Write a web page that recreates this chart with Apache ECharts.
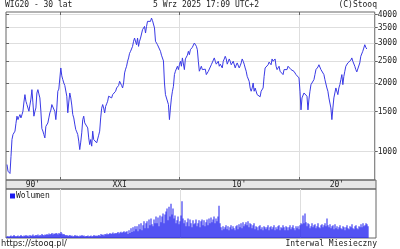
<!DOCTYPE html>
<html><head><meta charset="utf-8">
<script src="https://cdn.jsdelivr.net/npm/echarts@6/dist/echarts.min.js"></script>
<style>html,body{margin:0;padding:0;background:#fff}#c{width:400px;height:249px}</style>
</head><body><div id="c"></div>
<script>
// ---- data (monthly, starting Aug 1995) ----
const startYear = 1995, startMonth = 8;
const closeValues = [
877,820,807,801,950,1129,1187,1210,1229,1330,
1430,1381,1420,1453,1405,1450,1503,1650,1778,1663,
1608,1600,1503,1600,1700,1870,1636,1430,1500,1554,
1808,1870,1790,1720,1503,1260,1230,1187,1148,1290,
1314,1335,1405,1478,1520,1608,1636,1636,1500,1381,
1554,1840,1880,1902,2328,2150,2069,2000,1950,1935,
1750,1480,1650,1808,1720,1600,1453,1405,1320,1249,
1220,1187,1111,1020,1100,1208,1380,1430,1336,1350,
1360,1270,1148,1073,1129,1056,1229,1129,1120,1111,
1092,1111,1180,1229,1405,1550,1608,1554,1478,1580,
1620,1663,1750,1778,1760,1720,1778,1800,1808,1840,
1902,1870,1950,2035,2069,1950,1902,2000,2215,2300,
2369,2492,2577,2700,2756,2800,2896,3050,3150,3204,
2945,3150,2896,3050,3150,3204,3430,3500,3545,3315,
3545,3730,3790,3760,3730,3855,3760,3790,3490,3050,
2996,2945,2920,2896,2756,2650,2620,2500,2000,1778,
1750,1800,1608,1381,1554,1720,1840,1935,2177,2253,
2290,2369,2290,2405,2492,2369,2577,2550,2290,2550,
2577,2650,2756,2663,2800,2847,2870,2896,2996,2945,
2900,2800,2492,2253,2253,2369,2290,2253,2290,2300,
2177,2140,2250,2290,2253,2405,2420,2420,2577,2492,
2420,2405,2492,2369,2420,2420,2330,2492,2550,2620,
2550,2420,2450,2550,2492,2405,2450,2492,2450,2330,
2400,2450,2420,2330,2380,2450,2550,2492,2420,2328,
2253,2140,2106,2035,1900,1840,1900,2000,1840,1900,
1870,1778,1750,1790,1740,1840,1870,1902,2140,2328,
2300,2290,2405,2470,2492,2405,2550,2492,2520,2550,
2369,2290,2330,2369,2253,2290,2230,2177,2290,2330,
2330,2290,2369,2350,2330,2290,2253,2330,2250,2215,
2177,2177,2150,2106,1840,1524,1720,1720,1808,1808,
1808,1750,1524,1700,1840,1967,1950,1990,2069,2177,
2290,2330,2350,2405,2369,2290,2253,2290,2177,2069,
2100,1902,1840,1720,1730,1554,1381,1554,1720,1808,
1902,1870,1778,1902,1967,2069,2177,1967,2140,2253,
2369,2330,2450,2492,2492,2520,2577,2492,2450,2369,
2290,2237,2215,2253,2450,2620,2663,2756,2847,2945,
2870,2820
];
const volumeValues = [
3,4,2,4,5,3,4,6,4,3,
4,5,3,4,6,4,3,5,4,6,
4,5,3,6,4,5,7,4,5,6,
5,7,4,6,5,8,6,5,7,6,
8,6,9,7,8,10,7,9,8,10,
9,7,10,8,12,9,7,8,6,5,
6,4,5,6,4,5,3,4,6,4,
5,4,3,5,4,6,4,5,3,4,
4,5,3,4,5,3,4,6,4,5,
4,5,6,4,8,6,7,5,8,7,
9,7,8,10,8,9,11,8,10,9,
10,12,9,11,13,10,12,14,11,13,
14,8,16,10,20,12,22,14,24,18,
24,14,28,18,30,16,26,34,20,30,
34,20,38,26,40,28,24,38,30,44,
30,42,24,46,32,44,50,30,48,54,
60,36,64,44,70,48,60,40,46,30,
36,44,28,34,46,75,40,30,36,24,
32,40,24,38,30,22,36,28,30,38,
24,30,36,22,34,38,26,36,24,32,
38,26,40,30,42,32,38,44,30,40,
34,44,66,30,22,16,24,18,22,26,
18,24,16,22,26,18,24,20,16,24,
26,18,28,22,30,20,32,24,28,32,
26,34,22,30,28,20,26,30,18,24,
22,16,24,26,18,22,16,24,22,18,
22,26,16,22,24,18,22,26,16,22,
18,24,26,16,22,20,26,22,16,24,
22,16,22,26,18,22,26,20,16,24,
20,24,18,26,30,28,46,30,50,32,
24,30,28,20,24,30,22,26,28,20,
24,30,22,20,26,28,22,26,30,24,
40,26,22,28,20,24,26,18,28,20,
24,18,22,26,20,18,24,22,16,22,
26,20,18,24,22,28,20,18,24,26,
20,18,24,22,28,22,30,24,26,30,
28,24
];
const priceTicks = [1000, 1500, 2000, 2500, 3000, 3500, 4000];
const decadeLines = [2000, 2010, 2020];
const decadeLabelPos = [1997.75, 2005, 2015, 2023.17];
const decadeLabels = ["90'", "XXI", "10'", "20'"];
const xMin = 1995.5, xMax = 2026.333;
const priceMin = 750, priceMax = 4100;

const monthX = closeValues.map((_, i) => startYear + (startMonth - 1 + i) / 12);
const priceData = closeValues.map((v, i) => [monthX[i], v]);
const volumeData = volumeValues.map((v, i) => [monthX[i], v]);

const mono = 'DejaVu Sans Mono';
const txt = { fontFamily: mono, fontSize: 8, fontWeight: 'normal', color: '#222' };
const gridCol = '#dedede';
const borderCol = '#666';

const chart = echarts.init(document.getElementById('c'), null, { renderer: 'canvas' });
chart.setOption({
  animation: false,
  backgroundColor: '#fff',
  title: [
    { text: 'WIG20 - 30 lat', left: 5, top: 1, padding: 0, textStyle: txt },
    { text: '5 Wrz 2025 17:09 UTC+2', left: 153, top: 1, padding: 0, textStyle: txt },
    { text: '(C)Stooq', right: 23, top: 1, padding: 0, textStyle: txt },
    { text: 'https://stooq.pl/', left: 1, top: 240, padding: 0, textStyle: Object.assign({}, txt, { fontFamily: 'DejaVu Sans', fontSize: 8.3 }) },
    { text: 'Interwal Miesieczny', right: 23, top: 240, padding: 0, textStyle: txt }
  ],
  legend: {
    data: ['Wolumen'], left: 10, top: 192, padding: 0, icon: 'rect',
    itemWidth: 5, itemHeight: 5, selectedMode: false,
    textStyle: Object.assign({}, txt, { padding: [0, 0, 0, -4] })
  },
  grid: [
    { left: 6, right: 24, top: 12, height: 168, show: true, borderColor: borderCol, borderWidth: 1, backgroundColor: 'transparent' },
    { left: 6, right: 24, top: 189, height: 49, show: true, borderColor: borderCol, borderWidth: 1, backgroundColor: 'transparent' }
  ],
  xAxis: [
    { type: 'value', gridIndex: 0, min: xMin, max: xMax, position: 'bottom',
      axisLine: { show: false },
      axisTick: { show: true, inside: true, length: 3, customValues: decadeLines, lineStyle: { color: borderCol } },
      splitLine: { show: true, lineStyle: { color: gridCol, width: 1 } },
      axisLabel: { customValues: decadeLabelPos, margin: 1, fontFamily: mono, fontSize: 8, color: '#222',
        formatter: v => decadeLabels[decadeLabelPos.findIndex(p => Math.abs(p - v) < 0.01)] || '' } },
    { type: 'value', gridIndex: 0, min: xMin, max: xMax, position: 'top',
      axisLine: { show: false },
      axisTick: { show: true, inside: true, length: 3, customValues: decadeLines, lineStyle: { color: borderCol } },
      splitLine: { show: false }, axisLabel: { show: false } },
    { type: 'value', gridIndex: 1, min: xMin, max: xMax, position: 'bottom',
      axisLine: { show: false },
      axisTick: { show: false, customValues: decadeLines },
      splitLine: { show: true, lineStyle: { color: gridCol, width: 1 } },
      axisLabel: { show: false } }
  ],
  yAxis: [
    { type: 'log', logBase: 10, gridIndex: 0, position: 'right', min: priceMin, max: priceMax,
      axisLine: { show: false },
      axisTick: { show: true, length: 3, customValues: priceTicks, lineStyle: { color: borderCol } },
      axisLabel: { customValues: priceTicks, margin: 3, fontFamily: mono, fontSize: 8, color: '#222',
        formatter: v => String(Math.round(v)) },
      splitLine: { show: true, lineStyle: { color: gridCol, width: 1 } } },
    { type: 'value', gridIndex: 1, position: 'right', min: 0, max: 100,
      axisLine: { show: false }, axisTick: { show: false }, axisLabel: { show: false }, splitLine: { show: false } },
    { type: 'log', logBase: 10, gridIndex: 0, position: 'left', min: priceMin, max: priceMax,
      axisLine: { show: false },
      axisTick: { show: true, inside: true, length: 3, customValues: priceTicks, lineStyle: { color: borderCol } },
      axisLabel: { show: false }, splitLine: { show: false } }
  ],
  graphic: [
    { type: 'rect', z: -1, shape: { x: 6, y: 180, width: 370, height: 9 }, style: { fill: '#e6e6e6', stroke: borderCol, lineWidth: 1 } }
  ],
  series: [
    { type: 'line', name: 'WIG20', xAxisIndex: 0, yAxisIndex: 0, data: priceData,
      showSymbol: false, symbol: 'none', lineStyle: { color: '#3a3ae6', width: 1 }, itemStyle: { color: '#3a3ae6' } },
    { type: 'bar', name: 'Wolumen', xAxisIndex: 2, yAxisIndex: 1, data: volumeData,
      barWidth: 0.8, itemStyle: { color: '#1a1af0' } }
  ]
});
</script></body></html>
